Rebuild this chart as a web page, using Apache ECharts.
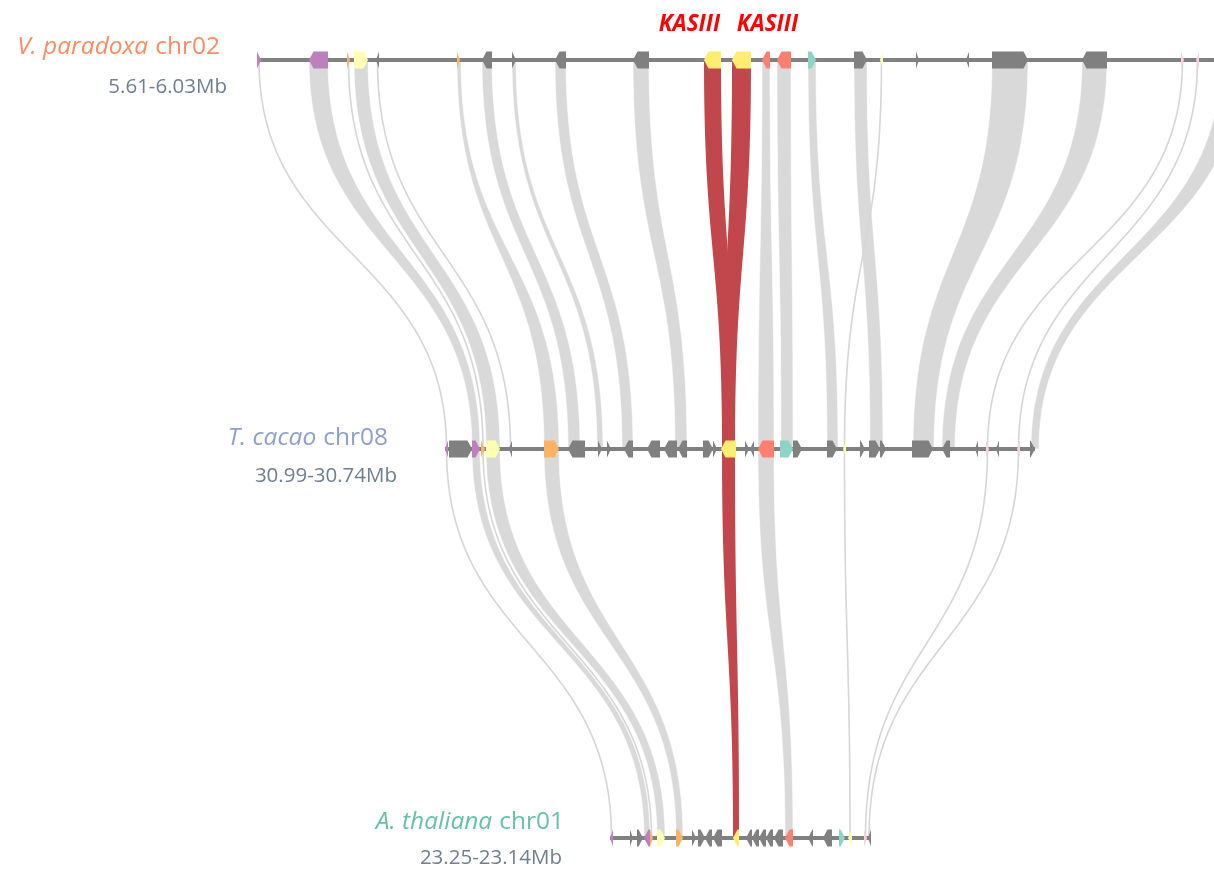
<!DOCTYPE html>
<html>
<head>
<meta charset="utf-8">
<script src="https://cdn.jsdelivr.net/npm/echarts@6/dist/echarts.min.js"></script>
<style>
  html, body { margin: 0; padding: 0; background: #ffffff; }
  #chart { width: 1214px; height: 872px; }
</style>
</head>
<body>
<div id="chart"></div>
<script>
// ---- Tracks (top to bottom) ----
const species = ['V. paradoxa', 'T. cacao', 'A. thaliana'];
const chromosomes = ['chr02', 'chr08', 'chr01'];
const regions = ['5.61-6.03Mb', '30.99-30.74Mb', '23.25-23.14Mb'];
// drawn extent of each chromosome segment, in layout units
const trackSpans = [[257, 1214], [445, 1035], [610, 871]];

// ---- Genes: [start, end, strand, family] ----
// families: P purple, O orange, Y pale yellow, K KASIII, S salmon, T teal, N pink, G other
const genesVparadoxa = [
  [257, 261, 1, 'P'], [309, 328, -1, 'P'], [347, 350, 1, 'O'], [354, 368, 1, 'Y'],
  [376, 379, -1, 'G'], [457, 460, 1, 'O'], [482, 492, -1, 'G'], [512, 516, 1, 'G'],
  [555, 566, -1, 'G'], [633, 649, -1, 'G'], [704, 721, -1, 'K'], [732, 751, -1, 'K'],
  [762, 770, -1, 'S'], [777, 791, -1, 'S'], [808, 816, 1, 'T'], [854, 867, 1, 'G'],
  [880, 883, -1, 'Y'], [916, 919, 1, 'G'], [966, 969, -1, 'G'], [992, 1028, 1, 'G'],
  [1082, 1107, -1, 'G'], [1181, 1184, 1, 'N'], [1196, 1199, -1, 'N']
];
const genesTcacao = [
  [445, 448, -1, 'P'], [449, 472, 1, 'G'], [472, 480, 1, 'P'], [481, 485, 1, 'O'],
  [486, 500, 1, 'Y'], [509, 512, -1, 'G'], [544, 559, 1, 'O'], [568, 585, -1, 'G'],
  [598, 602, 1, 'G'], [607, 611, 1, 'G'], [624, 633, -1, 'G'], [647, 660, -1, 'G'],
  [664, 677, -1, 'G'], [678, 687, -1, 'G'], [703, 713, 1, 'G'], [713, 717, 1, 'G'],
  [721, 736, -1, 'K'], [745, 749, 1, 'G'], [750, 754, -1, 'G'], [758, 774, -1, 'S'],
  [780, 793, 1, 'T'], [793, 802, 1, 'G'], [827, 837, 1, 'G'], [843, 846, -1, 'Y'],
  [860, 865, 1, 'G'], [869, 880, 1, 'G'], [880, 886, 1, 'G'], [912, 933, 1, 'G'],
  [942, 950, -1, 'G'], [975, 978, -1, 'G'], [986, 989, 1, 'N'], [996, 999, -1, 'G'],
  [1017, 1020, -1, 'N'], [1030, 1035, 1, 'G']
];
const genesAthaliana = [
  [610, 613, -1, 'P'], [630, 633, 1, 'G'], [637, 643, 1, 'G'], [644, 650, -1, 'P'],
  [650, 653, 1, 'O'], [657, 665, 1, 'Y'], [676, 683, 1, 'O'], [692, 696, 1, 'G'],
  [698, 705, 1, 'G'], [705, 712, -1, 'G'], [713, 722, -1, 'G'], [733, 739, -1, 'K'],
  [746, 752, -1, 'G'], [752, 759, -1, 'G'], [759, 766, -1, 'G'], [766, 773, -1, 'G'],
  [774, 783, -1, 'G'], [785, 793, -1, 'S'], [808, 813, -1, 'G'], [823, 832, -1, 'G'],
  [839, 845, 1, 'T'], [848, 852, -1, 'Y'], [864, 867, 1, 'N'], [868, 871, -1, 'G']
];

// ---- Syntenic links: [upperStart, upperEnd, lowerStart, lowerEnd, kind] ----
// kind: 'g' ortholog block, 't' weak hit, 'r' KASIII
const linksVpTc = [
  [257, 261, 445, 448, 't'], [309, 328, 472, 480, 'g'], [347, 350, 481, 485, 't'],
  [354, 368, 486, 500, 'g'], [376, 379, 509, 512, 't'], [457, 461, 544, 559, 'g'],
  [482, 492, 568, 580, 'g'], [512, 516, 597, 603, 'g'], [555, 566, 622, 633, 'g'],
  [633, 649, 675, 687, 'g'], [704, 721, 722, 735, 'r'], [732, 751, 722, 735, 'r'],
  [762, 770, 758, 774, 'g'], [777, 791, 781, 793, 'g'], [808, 816, 827, 838, 'g'],
  [854, 867, 870, 883, 'g'], [880, 883, 843, 846, 't'],
  [992, 1028, 913, 934, 'g'], [1082, 1107, 942, 955, 'g'], [1181, 1184, 986, 989, 't'],
  [1196, 1199, 1017, 1020, 't'], [1220, 1240, 1031, 1039, 'g']
];
const linksTcAt = [
  [445, 448, 610, 613, 't'], [472, 480, 644, 650, 'g'], [481, 485, 650, 653, 't'],
  [486, 500, 657, 665, 'g'], [544, 559, 676, 683, 'g'], [722, 735, 733, 739, 'r'],
  [758, 774, 785, 793, 'g'], [843, 846, 848, 852, 't'], [986, 989, 864, 867, 't'],
  [1017, 1020, 868, 870, 't']
];

// ---- Styling ----
const FAMILY_COLOR = {
  P: '#bc80bd', O: '#fdb462', Y: '#ffffb3', K: '#ffed6f', S: '#fb8072',
  T: '#8dd3c7', N: '#fccde5', G: '#808080'
};
const TITLE_COLOR = ['#fc8d62', '#8da0cb', '#66c2a5'];
const REGION_COLOR = '#708090';
const FONT = '"Open Sans", Lato, sans-serif';
const GENE_H = 17;
const TIP = 4.5;
// label placement relative to each track start (px)
const labelLayout = [
  { titleDx: -37, titleDy: -13, subDx: -30, subDy: 27 },
  { titleDx: -57, titleDy: -11, subDx: -48, subDy: 27 },
  { titleDx: -46, titleDy: -16, subDx: -48, subDy: 20 }
];
const kasLabelDx = [-23, 26];

const geneSets = [genesVparadoxa, genesTcacao, genesAthaliana];
const linkSets = [linksVpTc, linksTcAt];

const geneRows = [];
geneSets.forEach((set, t) => set.forEach(g => geneRows.push({ value: [g[0], g[1], t, g[2]], fam: g[3] })));
const linkRows = [];
linkSets.forEach((set, t) => set.forEach(l => linkRows.push({ value: [l[0], l[1], l[2], l[3], t], kind: l[4] })));
const spanRows = trackSpans.map((s, t) => [s[0], s[1], t]);
const kasRows = genesVparadoxa.filter(g => g[3] === 'K').map(g => [(g[0] + g[1]) / 2, 0]);

function cubicEdge(xs, ys, xe, ye, n) {
  const ym = (ys + ye) / 2;
  const pts = [];
  for (let i = 0; i <= n; i++) {
    const t = i / n, u = 1 - t;
    const x = u * u * u * xs + 3 * u * u * t * xs + 3 * u * t * t * xe + t * t * t * xe;
    const y = u * u * u * ys + 3 * u * u * t * ym + 3 * u * t * t * ym + t * t * t * ye;
    pts.push([x, y]);
  }
  return pts;
}

function renderLink(params, api) {
  const t = api.value(4);
  const a0 = api.coord([api.value(0), t]);
  const a1 = api.coord([api.value(1), t]);
  const b0 = api.coord([api.value(2), t + 1]);
  const b1 = api.coord([api.value(3), t + 1]);
  const kind = linkRows[params.dataIndex].kind;
  if (kind === 't') {
    const pts = cubicEdge((a0[0] + a1[0]) / 2, a0[1], (b0[0] + b1[0]) / 2, b0[1], 80);
    return { type: 'polyline', shape: { points: pts },
      style: { stroke: '#d6d6d6', lineWidth: 1.6, fill: null } };
  }
  const left = cubicEdge(a0[0], a0[1], b0[0], b0[1], 80);
  const right = cubicEdge(b1[0], b1[1], a1[0], a1[1], 80);
  const pts = left.concat(right);
  if (kind === 'r') {
    return { type: 'polygon', shape: { points: pts }, style: { fill: '#c1474c' } };
  }
  return { type: 'polygon', shape: { points: pts },
    style: { fill: '#d9d9d9', stroke: 'rgba(255,255,255,0.75)', lineWidth: 0.8 } };
}

function renderTrack(params, api) {
  const s = api.coord([api.value(0), api.value(2)]);
  const e = api.coord([api.value(1), api.value(2)]);
  return { type: 'line', shape: { x1: s[0], y1: s[1], x2: e[0], y2: e[1] },
    style: { stroke: '#808080', lineWidth: 4 } };
}

function renderGene(params, api) {
  const s = api.coord([api.value(0), api.value(2)]);
  const e = api.coord([api.value(1), api.value(2)]);
  const x0 = s[0], x1 = e[0], y = s[1], h = GENE_H / 2;
  const tip = Math.min(TIP, x1 - x0);
  const pts = api.value(3) > 0
    ? [[x0, y - h], [x1 - tip, y - h], [x1, y], [x1 - tip, y + h], [x0, y + h]]
    : [[x1, y - h], [x0 + tip, y - h], [x0, y], [x0 + tip, y + h], [x1, y + h]];
  return { type: 'polygon', shape: { points: pts },
    style: { fill: FAMILY_COLOR[geneRows[params.dataIndex].fam] } };
}

function renderTrackLabel(params, api) {
  const t = params.dataIndex;
  const p = api.coord([api.value(0), t]);
  const L = labelLayout[t];
  return {
    type: 'group',
    children: [
      { type: 'text', x: p[0] + L.titleDx, y: p[1] + L.titleDy,
        style: {
          text: '{sp|' + species[t] + '}{ch|' + chromosomes[t] + '}',
          align: 'right', verticalAlign: 'middle',
          rich: {
            sp: { fontFamily: FONT, fontStyle: 'italic', fontSize: 24.5, fill: TITLE_COLOR[t] },
            ch: { fontFamily: FONT, fontSize: 24.5, fill: TITLE_COLOR[t], padding: [0, 0, 0, 7] }
          }
        } },
      { type: 'text', x: p[0] + L.subDx, y: p[1] + L.subDy,
        style: { text: regions[t], fontFamily: FONT, fontSize: 20.5, fill: REGION_COLOR,
          align: 'right', verticalAlign: 'middle' } }
    ]
  };
}

function renderKasLabel(params, api) {
  const p = api.coord([api.value(0), api.value(1)]);
  return { type: 'text', x: p[0] + kasLabelDx[params.dataIndex], y: 25,
    style: { text: 'KASIII', fontFamily: FONT, fontStyle: 'italic', fontWeight: 'bold',
      fontSize: 22.5, fill: '#ff0000', align: 'center', verticalAlign: 'middle' } };
}

const chart = echarts.init(document.getElementById('chart'), null, { renderer: 'canvas' });
chart.setOption({
  animation: false,
  backgroundColor: '#ffffff',
  grid: { left: 0, right: 0, top: 60, bottom: 34 },
  xAxis: { type: 'value', min: 0, max: 1214, show: false },
  yAxis: { type: 'value', min: 0, max: 2, inverse: true, show: false },
  series: [
    { type: 'custom', name: 'links', z: 1, clip: true, renderItem: renderLink,
      encode: { x: [0, 1, 2, 3], y: 4 }, data: linkRows },
    { type: 'custom', name: 'chromosomes', z: 2, renderItem: renderTrack,
      encode: { x: [0, 1], y: 2 }, data: spanRows },
    { type: 'custom', name: 'genes', z: 3, renderItem: renderGene,
      encode: { x: [0, 1], y: 2 }, data: geneRows },
    { type: 'custom', name: 'trackLabels', z: 4, renderItem: renderTrackLabel,
      encode: { x: 0, y: 2 }, data: spanRows },
    { type: 'custom', name: 'kasLabels', z: 4, renderItem: renderKasLabel,
      encode: { x: 0, y: 1 }, data: kasRows }
  ]
});
</script>
</body>
</html>
